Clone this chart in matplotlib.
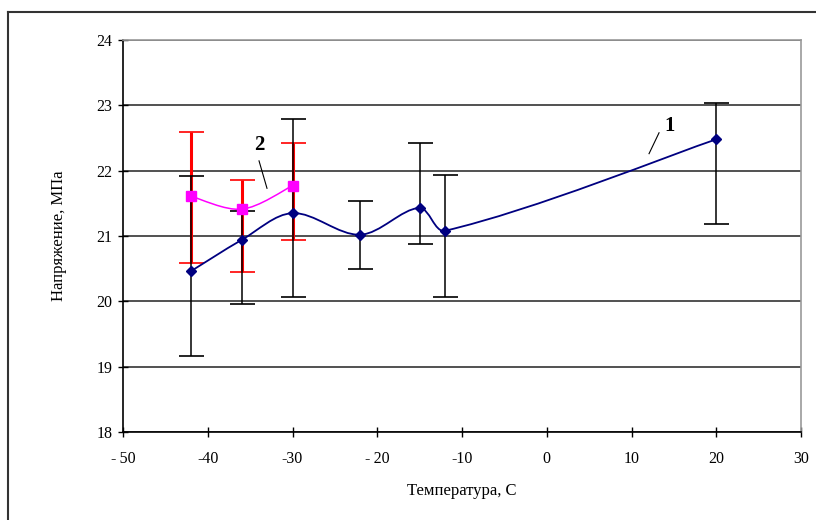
import matplotlib
matplotlib.use('agg')
import matplotlib.pyplot as plt
from matplotlib.path import Path
from matplotlib.patches import PathPatch
from matplotlib.lines import Line2D
import numpy as np

# series 1
temp1 = [-42, -36, -30, -22, -15, -12, 20]
stress1 = [20.46, 20.94, 21.35, 21.02, 21.43, 21.08, 22.48]
upper1 = [21.92, 21.38, 22.79, 21.53, 22.42, 21.94, 23.04]
lower1 = [19.17, 19.96, 20.07, 20.50, 20.87, 20.07, 21.19]

# series 2
temp2 = [-42, -36, -30]
stress2 = [21.61, 21.41, 21.77]
upper2 = [22.59, 21.85, 22.42]
lower2 = [20.59, 20.45, 20.94]

xticks = [-50, -40, -30, -20, -10, 0, 10, 20, 30]
xticklabels = ['-\u200950', '-40', '-30', '-\u200920', '-10', '0', '10', '20', '30']
yticks = [18, 19, 20, 21, 22, 23, 24]


def smooth_path(ax, xs, ys):
    # bezier through the points, tangents weighted by on-screen segment length
    pts = np.column_stack([xs, ys]).astype(float)
    scr = ax.transData.transform(pts)
    n = len(pts)
    d = np.hypot(*np.diff(scr, axis=0).T)
    verts = [pts[0]]
    codes = [Path.MOVETO]
    for i in range(n - 1):
        p0 = pts[max(i - 1, 0)]
        p1 = pts[i]
        p2 = pts[i + 1]
        p3 = pts[min(i + 2, n - 1)]
        dp = d[i - 1] if i > 0 else d[i]
        dn = d[i + 1] if i + 1 < n - 1 else d[i]
        c1 = p1 + (p2 - p0) * d[i] / (3.0 * (dp + d[i]))
        c2 = p2 - (p3 - p1) * d[i] / (3.0 * (d[i] + dn))
        verts += [c1, c2, p2]
        codes += [Path.CURVE4] * 3
    return Path(verts, codes)


def main():
    plt.rcParams['font.family'] = ['Liberation Serif', 'DejaVu Serif']
    plt.rcParams['axes.unicode_minus'] = False

    fig = plt.figure(figsize=(8.16, 5.2), dpi=100)
    ax = fig.add_axes([123 / 816, 1 - 432 / 520, 678 / 816, 392 / 520])

    ax.set_xlim(-50, 30)
    ax.set_ylim(18, 24)
    ax.set_xticks(xticks)
    ax.set_yticks(yticks)
    ax.set_xticklabels(xticklabels)
    ax.tick_params(labelsize=11.5, direction='inout', length=7, width=1, colors='black')
    ax.tick_params(axis='x', pad=10)
    ax.tick_params(axis='y', pad=4)
    ax.grid(axis='y', color='#222222', linewidth=1.1)
    ax.set_axisbelow(True)
    for s in ['top', 'right']:
        ax.spines[s].set_color('#999999')
        ax.spines[s].set_linewidth(1.2)
    for s in ['left', 'bottom']:
        ax.spines[s].set_color('black')
        ax.spines[s].set_linewidth(1.2)

    s1 = np.array(stress1)
    s2 = np.array(stress2)

    # error bars
    ax.errorbar(temp2, stress2, yerr=[s2 - np.array(lower2), np.array(upper2) - s2],
                fmt='none', ecolor='red', elinewidth=2.2, capsize=9, capthick=1.2, zorder=3)
    ax.errorbar(temp1, stress1, yerr=[s1 - np.array(lower1), np.array(upper1) - s1],
                fmt='none', ecolor='black', elinewidth=1.1, capsize=9, capthick=1.2, zorder=4)

    # smoothed lines
    ax.add_patch(PathPatch(smooth_path(ax, temp2, stress2), facecolor='none',
                           edgecolor='#ff00ff', linewidth=1.1, zorder=5))
    ax.add_patch(PathPatch(smooth_path(ax, temp1, stress1), facecolor='none',
                           edgecolor='#000080', linewidth=1.3, zorder=5))
    ax.plot(temp2, stress2, linestyle='none', marker='s', markersize=6.5,
            color='#ff00ff', zorder=6)
    ax.plot(temp1, stress1, linestyle='none', marker='D', markersize=5.5,
            color='#000080', zorder=6)

    # curve labels
    ax.text(-33.95, 22.39, '2', fontsize=15, fontweight='bold', ha='center', va='center')
    ax.plot([-33.95, -33.01], [22.15, 21.73], color='black', linewidth=0.8, zorder=7)
    ax.text(14.54, 22.68, '1', fontsize=15, fontweight='bold', ha='center', va='center')
    ax.plot([13.25, 12.07], [22.58, 22.26], color='black', linewidth=0.8, zorder=7)

    ax.set_xlabel('Температура, С', fontsize=12, labelpad=12)
    ax.set_ylabel('Напряжение, МПа', fontsize=12, labelpad=21)

    # chart area border (left and top visible)
    fig.add_artist(Line2D([8 / 816, 8 / 816], [0, 1 - 12 / 520], color='#333333', linewidth=1.5))
    fig.add_artist(Line2D([8 / 816, 1], [1 - 12 / 520, 1 - 12 / 520], color='#333333', linewidth=1.5))

    fig.savefig('out.png', dpi=100)


if __name__ == '__main__':
    main()
